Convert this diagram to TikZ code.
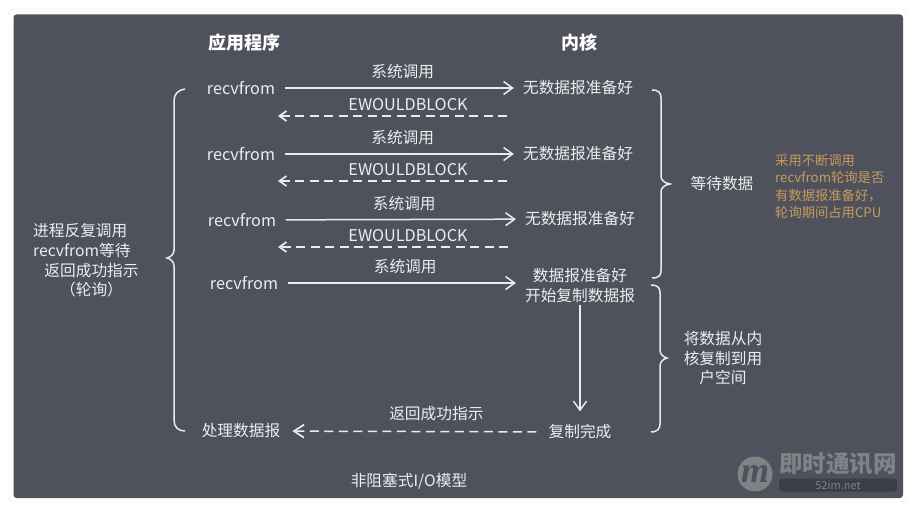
\documentclass[tikz,border=0pt]{standalone}
\usepackage{fontspec}
\setmainfont{Noto Sans CJK SC}
\newfontfamily\logofont{Liberation Serif}
\usetikzlibrary{arrows.meta}
\definecolor{panelbg}{HTML}{4F525C}
\definecolor{cardline}{HTML}{ECECEC}
\definecolor{labeltext}{HTML}{EDEDED}
\definecolor{notetext}{HTML}{C79A5C}
\definecolor{markgray}{HTML}{808286}
\definecolor{markbar}{HTML}{3B3D48}
\begin{document}
\begin{tikzpicture}[
            x=1pt, y=-1pt,
            label/.style={text=labeltext, font=\fontsize{15.7}{19.5}\selectfont, inner sep=0pt, align=center},
            latinlabel/.style={label, font=\fontsize{16.2}{19.5}\selectfont},
            appnode/.style={latinlabel, inner xsep=9.5pt},
            kernelnode/.style={label, inner xsep=9pt},
            heading/.style={text=white, font=\fontsize{18}{21}\selectfont\bfseries, inner sep=0pt},
            callarrow/.style={draw=white!92!black, line width=1.5pt, -{Straight Barb[length=9pt, width=13pt, line width=1.5pt]}},
            backarrow/.style={draw=white!92!black, line width=1.5pt, dash pattern=on 9pt off 5.5pt, -{Straight Barb[length=7pt, width=10pt, line width=1.7pt]}},
            bracket/.style={draw=white!92!black, line width=1.5pt}
        ]
        \useasboundingbox (0,0) rectangle (918,518);

        % Card and panel
        \draw[cardline, fill=white, rounded corners=6pt] (8,9) rectangle (907,502);
        \fill[panelbg, rounded corners=3pt] (13.5,14.5) rectangle (903,498);

        % Headings
        \node[heading] (apphead) at (244,43) {应用程序};
        \node[heading] (kernelhead) at (579,43) {内核};

        % Application side
        \node[appnode] (app1) at (241,88) {recvfrom};
        \node[appnode] (app2) at (241,154) {recvfrom};
        \node[appnode] (app3) at (242,220) {recvfrom};
        \node[appnode] (app4) at (244,283) {recvfrom};
        \node[label, inner xsep=12pt] (appdone) at (241,431) {处理数据报};

        % Kernel side
        \node[kernelnode] (kern1) at (578,88) {无数据报准备好};
        \node[kernelnode] (kern2) at (578,154) {无数据报准备好};
        \node[kernelnode] (kern3) at (580,219) {无数据报准备好};
        \node[kernelnode, inner ysep=2pt] (kern4) at (580,285.5) {数据报准备好\\开始复制数据报};
        \node[label, inner xsep=12pt, inner ysep=13pt] (kerndone) at (580,432) {复制完成};

        % Ends of the dashed arrows
        \coordinate (back1a) at (507,116);
        \coordinate (back1b) at (278,116);
        \coordinate (back2a) at (507,181);
        \coordinate (back2b) at (278,181);
        \coordinate (back3a) at (508,247);
        \coordinate (back3b) at (278,247);

        % Calls
        \draw[callarrow] (app1) -- (kern1) node[pos=0.515, label, above=8pt] (call1) {系统调用};
        \draw[callarrow] (app2) -- (kern2) node[pos=0.515, label, above=8pt] (call2) {系统调用};
        \draw[callarrow] (app3) -- (kern3) node[pos=0.515, label, above=8pt] (call3) {系统调用};
        \draw[callarrow] (app4) -- (app4 -| kern4.west) node[pos=0.515, label, above=8pt] (call4) {系统调用};

        % Replies
        \draw[backarrow] (back1a) -- (back1b);
        \draw[backarrow] (back2a) -- (back2b);
        \draw[backarrow] (back3a) -- (back3b);
        \node[latinlabel] (block1) at (408,105) {EWOULDBLOCK};
        \node[latinlabel] (block2) at (408,170) {EWOULDBLOCK};
        \node[latinlabel] (block3) at (408,236) {EWOULDBLOCK};

        % Copy and return
        \draw[callarrow] (kern4) -- (kerndone);
        \draw[backarrow, -{Straight Barb[length=10pt, width=13pt, line width=1.7pt]}] (kerndone) -- (appdone) node[pos=0.41, label, above=10pt] (retlabel) {返回成功指示};

        % Braces
        \draw[bracket] (185,89) .. controls (178,90) and (174,94) .. (174,101) -- (174,250)
            .. controls (174,254) and (171,257) .. (167,258) .. controls (171,259) and (174,262) .. (174,266)
            -- (174,420) .. controls (174,427) and (178,431) .. (185,431);
        \draw[bracket] (652,90) .. controls (659,90) and (661,93) .. (661,98) -- (661,176)
            .. controls (661,180) and (664,183) .. (670,184) .. controls (664,185) and (661,188) .. (661,192)
            -- (661,271) .. controls (661,275) and (659,278) .. (652,278);
        \draw[bracket] (651,285) .. controls (658,285) and (660,288) .. (660,293) -- (660,350)
            .. controls (660,354) and (663,357) .. (667,358) .. controls (663,359) and (660,362) .. (660,366)
            -- (660,424) .. controls (660,428) and (658,432) .. (651,432);

        % Brace labels
        \node[label, align=left, anchor=west] (polltop) at (33,240.5) {进程反复调用\\recvfrom等待};
        \node[label] (pollbot) at (91.5,280) {返回成功指示\\（轮询）};
        \node[label] (waitlabel) at (722,184) {等待数据};
        \node[label] (copylabel) at (723,358.5) {将数据从内\\核复制到用\\户空间};
        \node[text=notetext, font=\fontsize{13.3}{17.2}\selectfont, inner sep=0pt, align=left, anchor=west] (note) at (775,186.5) {采用不断调用\\recvfrom轮询是否\\有数据报准备好，\\轮询期间占用CPU};

        % Caption
        \node[label] (caption) at (409,481) {非阻塞式I/O模型};

        % Watermark
        \node[circle, fill=markgray, minimum size=35pt, inner sep=0pt, text=panelbg, font=\fontsize{36}{36}\logofont\bfseries\itshape] (logo) at (755,474) {m};
        \node[text=markgray, font=\fontsize{23.4}{23}\selectfont\bfseries, inner sep=0pt] (markname) at (838,464) {即时通讯网};
        \node[fill=markbar, rounded corners=3pt, minimum width=118pt, minimum height=13pt, inner sep=0pt, text=markgray, font=\fontsize{11}{11}\selectfont] (marksite) at (838,485) {52im.net};

    \end{tikzpicture}
\end{document}
